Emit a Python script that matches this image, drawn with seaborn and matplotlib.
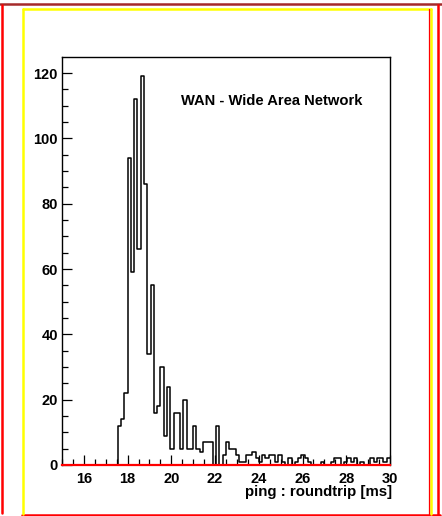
import numpy as np
import pandas as pd
import matplotlib
matplotlib.use("Agg")
import matplotlib.pyplot as plt
import seaborn as sns
from matplotlib.lines import Line2D
from matplotlib.ticker import MultipleLocator

# ---- data (histogram of ping roundtrip, 100 bins from 15 to 30 ms) ----
bin_lo = 15.0
bin_hi = 30.0
n_bins = 100
counts = [0] * 17 + [
    12, 14, 22, 94, 59, 112, 66, 119, 86, 34,
    55, 16, 18, 30, 9, 24, 5, 16, 16, 5,
    20, 5, 5, 12, 5, 4, 7, 7, 7, 0,
    12, 0, 3, 7, 5, 5, 3, 1, 1, 3,
    3, 4, 2, 1, 3, 2, 3, 3, 1, 3,
    1, 0, 2, 0, 1, 2, 3, 2, 1, 0,
    0, 0, 1, 0, 0, 1, 2, 2, 0, 1,
    2, 1, 2, 0, 1, 0, 0, 2, 1, 2,
    2, 1, 2,
]
title_text = "WAN - Wide Area Network"
x_label = "ping : roundtrip [ms]"
x_ticks = [16, 18, 20, 22, 24, 26, 28, 30]
y_ticks = [0, 20, 40, 60, 80, 100, 120]

edges = np.linspace(bin_lo, bin_hi, n_bins + 1)
centers = (edges[:-1] + edges[1:]) / 2
df = pd.DataFrame({"rtt": centers, "n": counts[:n_bins]})

sns.set_style("white")
plt.rcParams["font.family"] = ["Liberation Sans", "DejaVu Sans"]
plt.rcParams["text.color"] = "black"
plt.rcParams["axes.labelcolor"] = "black"
plt.rcParams["xtick.color"] = "black"
plt.rcParams["ytick.color"] = "black"

W, H = 442, 516
fig = plt.figure(figsize=(W / 100, H / 100), dpi=100)
ax = fig.add_axes([62 / W, (H - 465) / H, 328 / W, 408 / H])

sns.histplot(data=df, x="rtt", weights="n", bins=n_bins, binrange=(bin_lo, bin_hi),
             element="step", fill=False, color="black", linewidth=1.1, ax=ax)

ax.set_xlim(bin_lo, bin_hi)
ax.set_ylim(0, max(counts) * 1.05)
ax.set_xticks(x_ticks)
ax.set_yticks(y_ticks)
ax.xaxis.set_minor_locator(MultipleLocator(0.5))
ax.yaxis.set_minor_locator(MultipleLocator(5))
ax.tick_params(which="both", direction="in", top=False, right=False,
               bottom=True, left=True, width=0.9, color="black",
               labelcolor="black")
ax.tick_params(which="major", length=7.2, labelsize=10.5)
ax.tick_params(which="minor", length=4)
for lab in ax.get_xticklabels() + ax.get_yticklabels():
    lab.set_fontweight("bold")
ax.tick_params(axis="x", pad=5)
ax.tick_params(axis="y", pad=3)

for s in ["left", "top", "right"]:
    ax.spines[s].set_color("black")
    ax.spines[s].set_linewidth(1.0)
ax.spines["bottom"].set_color("red")
ax.spines["bottom"].set_linewidth(1.6)

ax.set_ylabel("")
ax.set_xlabel(x_label, fontsize=10.8, fontweight="bold", ha="right", color="black")
ax.xaxis.set_label_coords(1.006, -0.066)
ax.xaxis.label.set_va("center")

ax.text((181 - 62) / 328, (465 - 101) / 408, title_text, transform=ax.transAxes,
        ha="left", va="center", fontsize=10.6, fontweight="bold", color="black")

# ---- canvas frames ----
def fline(x0, y0, x1, y1, color, lw):
    fig.add_artist(Line2D([x0 / W, x1 / W], [1 - y0 / H, 1 - y1 / H],
                          transform=fig.transFigure, color=color, linewidth=lw))

fline(0, 4, W, 4, "#a52a2a", 1.8)
fline(2, 5, 2, 513, "red", 1.8)
fline(438, 5, 438, 515, "red", 1.8)
fline(22, 514.5, 440, 514.5, "red", 1.8)
fline(23, 9, 431, 9, "yellow", 1.8)
fline(23, 9, 23, 514, "yellow", 1.8)
fline(431, 9, 431, 514, "yellow", 1.8)
fline(429, 9, 429, 514, "red", 0.9)

fig.savefig("out.png", dpi=100)
